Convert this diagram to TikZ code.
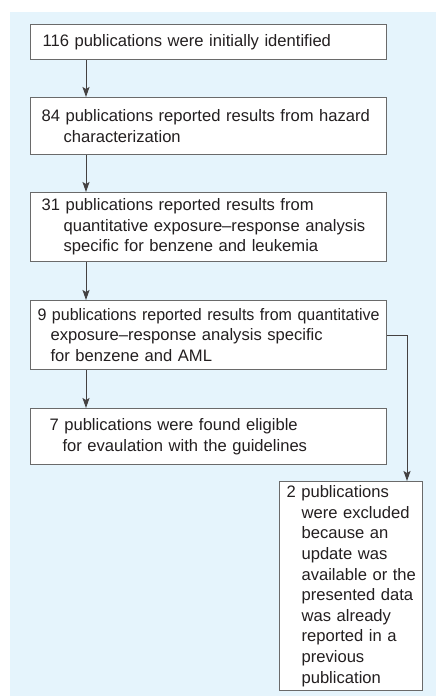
\documentclass[tikz,border=0pt]{standalone}
\usepackage{fontspec}
\setmainfont{Liberation Sans}
\newfontfamily\narrowfnt[FakeStretch=0.965]{Liberation Sans}
\usetikzlibrary{arrows.meta}
\definecolor{bgblue}{HTML}{E5F4FC}
\definecolor{boxgray}{HTML}{6A6A6A}
\definecolor{txt}{HTML}{231F20}
\newcommand{\boxfont}{\fontsize{16.6}{20.6}\selectfont\hyphenpenalty=10000\exhyphenpenalty=10000\hbadness=10000\hfuzz=50pt}
\newcommand{\ind}[1]{\hspace*{#1pt}}
\tikzset{
  flowbox/.style={draw=boxgray, fill=white, line width=1.1pt, inner xsep=0pt, inner ysep=0pt,
    anchor=north west, align=left, font=\boxfont, text=txt},
  arr/.style={draw=txt!85, line width=1pt, -{Stealth[length=10pt,width=7pt,inset=2pt]}}
}
\begin{document}
\begin{tikzpicture}[x=1pt,y=-1pt]
\useasboundingbox (0,0) rectangle (436,696);
\fill[bgblue] (10,12) rectangle (436,696);
\node[flowbox, text width=356pt, minimum height=35pt] (B1) at (30,24)
  {\ind{12}116 publications were initially identified};
\node[flowbox, text width=356pt, minimum height=57pt] (B2) at (30,97)
  {\ind{11}84 publications reported results from hazard\\\ind{33}characterization};
\node[flowbox, text width=356pt, minimum height=69pt] (B3) at (30,192)
  {\ind{11}31 publications reported results from\\\ind{33}quantitative exposure–response analysis\\\ind{33}specific for benzene and leukemia};
\node[flowbox, text width=356pt, minimum height=69pt] (B4) at (30,300)
  {\ind{7}\mbox{\narrowfnt 9 publications reported results from quantitative}\\\ind{20}exposure–response analysis specific\\\ind{20}for benzene and AML};
\node[flowbox, text width=356pt, minimum height=56pt] (B5) at (30,408)
  {\ind{19}7 publications were found eligible\\\ind{32}for evaulation with the guidelines};
\node[flowbox, text width=143pt, minimum height=209pt] (B6) at (279,481)
  {\ind{7}2 publications\\\ind{22}were excluded\\\ind{22}because an\\\ind{22}update was\\\ind{22}available or the\\\ind{22}presented data\\\ind{22}was already\\\ind{22}reported in a\\\ind{22}previous\\\ind{22}publication};
\coordinate (L) at (86,0);
\coordinate (R) at (407,0);
\draw[arr] (B1.south -| L) -- (B2.north -| L);
\draw[arr] (B2.south -| L) -- (B3.north -| L);
\draw[arr] (B3.south -| L) -- (B4.north -| L);
\draw[arr] (B4.south -| L) -- (B5.north -| L);
\draw[arr] (B4.east) -- (B4.east -| R) -- (B6.north -| R);
\end{tikzpicture}
\end{document}
